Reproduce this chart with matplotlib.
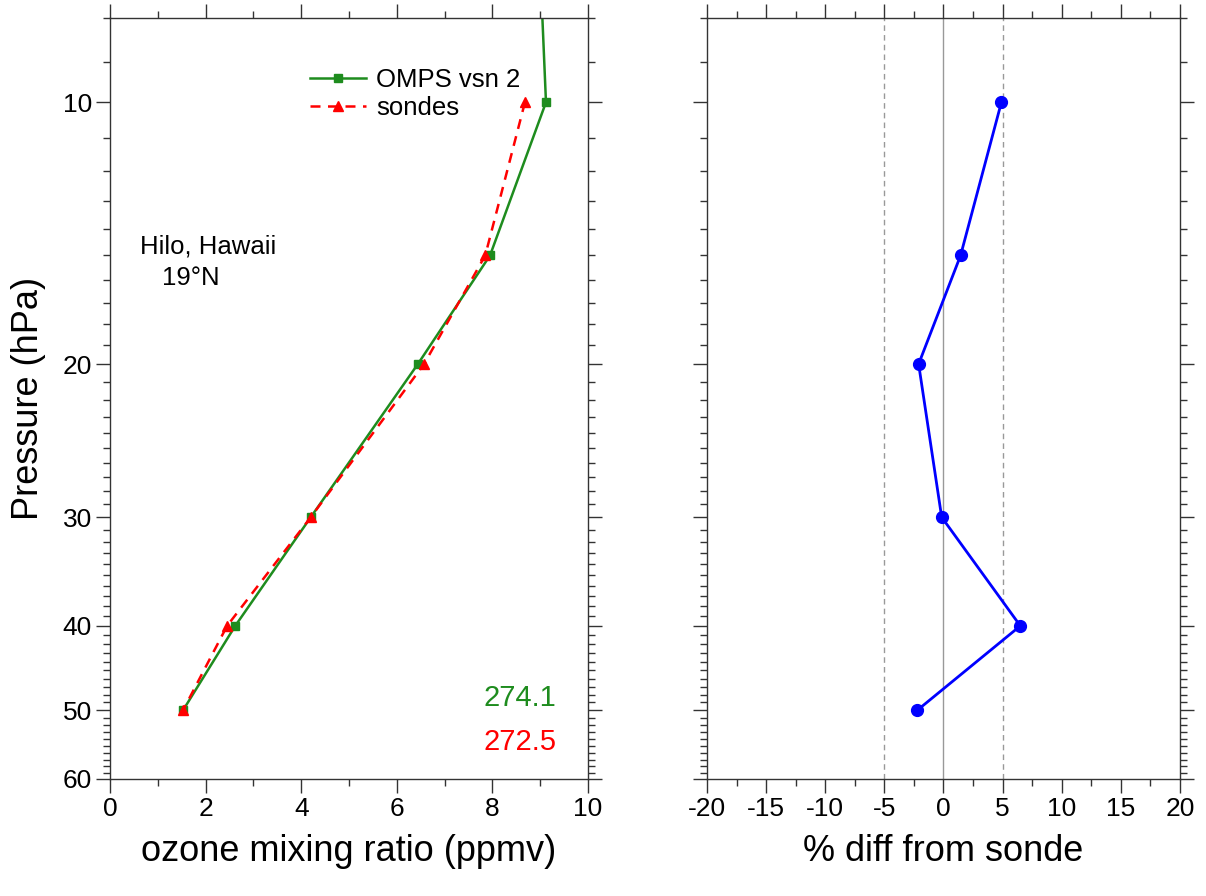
import numpy as np
import matplotlib.pyplot as plt
from matplotlib.ticker import FixedLocator, NullFormatter, FixedFormatter

plt.rcParams["font.family"] = ["Liberation Sans", "DejaVu Sans"]
plt.rcParams["axes.unicode_minus"] = False

# pressure levels (hPa)
p_omps = [7, 10, 15, 20, 30, 40, 50]
o3_omps = [9.0, 9.12, 7.95, 6.44, 4.2, 2.62, 1.53]

p_sonde = [10, 15, 20, 30, 40, 50]
o3_sonde = [8.68, 7.85, 6.57, 4.2, 2.45, 1.53]

p_diff = [10, 15, 20, 30, 40, 50]
pct_diff = [4.9, 1.45, -2.1, -0.15, 6.5, -2.2]

col_tot_omps = "274.1"
col_tot_sonde = "272.5"

green = "#1e8c1e"

fig = plt.figure(figsize=(12.06, 8.96), dpi=100)
ax1 = fig.add_axes([0.0912, 0.1306, 0.3964, 0.8493])
ax2 = fig.add_axes([0.5862, 0.1306, 0.3922, 0.8493])

major_y = [10, 20, 30, 40, 50, 60]
minor_y = [p for p in range(8, 61) if p not in major_y]

for ax in (ax1, ax2):
    ax.set_yscale("log")
    ax.set_ylim(60, 8)
    ax.yaxis.set_major_locator(FixedLocator(major_y))
    ax.yaxis.set_minor_locator(FixedLocator(minor_y))
    ax.yaxis.set_minor_formatter(NullFormatter())
    ax.tick_params(which="both", direction="out", top=True, right=True,
                   width=1.0, colors="#333333", labelcolor="black")
    ax.tick_params(which="major", length=10, labelsize=19, pad=3)
    ax.tick_params(which="minor", length=5)
    for s in ax.spines.values():
        s.set_linewidth(1.0)
        s.set_color("#333333")

ax1.yaxis.set_major_formatter(FixedFormatter([str(v) for v in major_y]))
ax2.yaxis.set_major_formatter(NullFormatter())

# left panel: profiles
ax1.plot(o3_omps, p_omps, color=green, lw=1.8, marker="s", ms=5.5,
         label="OMPS vsn 2")
ax1.plot(o3_sonde, p_sonde, color="red", lw=1.8, ls=(0, (4, 3)),
         marker="^", ms=7, label="sondes")
ax1.set_xlim(0, 10)
ax1.xaxis.set_major_locator(FixedLocator([0, 2, 4, 6, 8, 10]))
ax1.xaxis.set_minor_locator(FixedLocator([1, 3, 5, 7, 9]))
ax1.set_xlabel("ozone mixing ratio (ppmv)", fontsize=26, labelpad=9)
ax1.set_ylabel("Pressure (hPa)", fontsize=26, labelpad=12)

ax1.legend(loc="upper left", bbox_to_anchor=(0.38, 0.958), frameon=False,
           fontsize=18.5, handlelength=2.2, handletextpad=0.4,
           labelspacing=0.15, borderpad=0.2)

ax1.text(0.063, 0.70, "Hilo, Hawaii", transform=ax1.transAxes,
         fontsize=18.5, ha="left", va="center")
ax1.text(0.108, 0.659, "19\u00b0N", transform=ax1.transAxes,
         fontsize=18.5, ha="left", va="center")
ax1.text(0.933, 0.107, col_tot_omps, transform=ax1.transAxes,
         fontsize=21, color=green, ha="right", va="center")
ax1.text(0.933, 0.049, col_tot_sonde, transform=ax1.transAxes,
         fontsize=21, color="red", ha="right", va="center")

# right panel: percent difference
ax2.axvline(0, color="#999999", lw=1.0)
ax2.axvline(-5, color="#999999", lw=1.0, ls=(0, (4, 3)))
ax2.axvline(5, color="#999999", lw=1.0, ls=(0, (4, 3)))
ax2.plot(pct_diff, p_diff, color="blue", lw=2.0, marker="o", ms=8.5)
ax2.set_xlim(-20, 20)
ax2.xaxis.set_major_locator(FixedLocator(np.arange(-20, 21, 5)))
ax2.xaxis.set_minor_locator(FixedLocator(np.arange(-17.5, 20, 5)))
ax2.set_xlabel("% diff from sonde", fontsize=26, labelpad=9)

fig.savefig("out.png", dpi=100)
